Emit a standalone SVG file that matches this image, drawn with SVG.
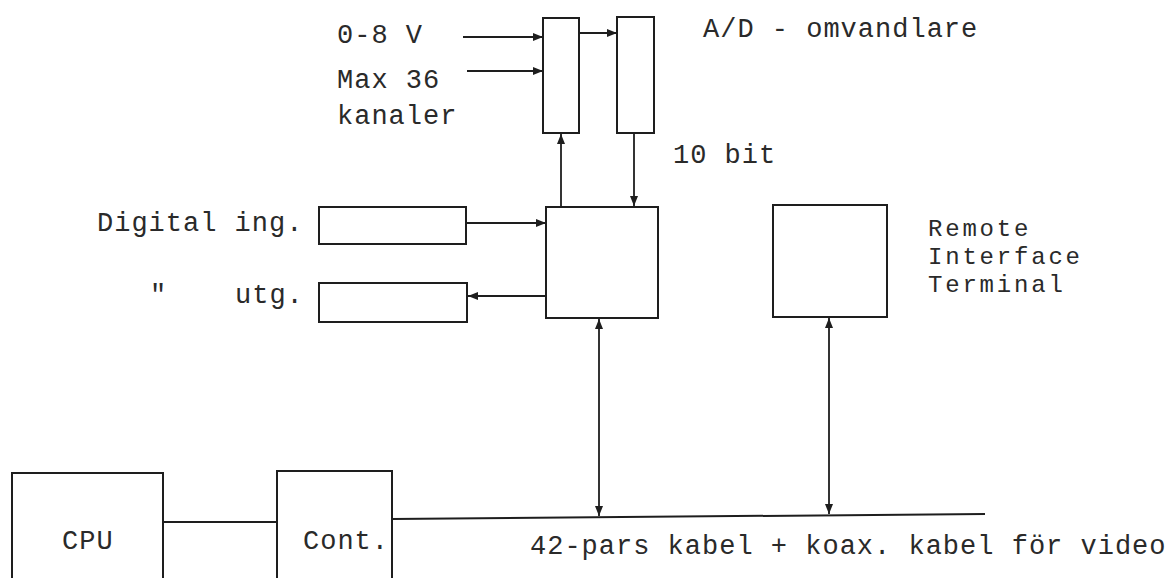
<svg xmlns="http://www.w3.org/2000/svg" width="1175" height="578" viewBox="0 0 1175 578">
<style>
.b{fill:none;stroke:#1e1e1e;stroke-width:2}
.c{fill:none;stroke:#1e1e1e;stroke-width:1.8}
.a{marker-end:url(#ah)}
.d{marker-start:url(#ah);marker-end:url(#ah)}
text{font-family:"Liberation Mono","DejaVu Sans Mono",monospace;font-size:27px;letter-spacing:1px;fill:#2a2a2a}
.s{font-size:24px;letter-spacing:2.8px}
</style>
<defs>
<marker id="ah" viewBox="0 0 10 8" refX="10" refY="4" markerWidth="10" markerHeight="8" markerUnits="userSpaceOnUse" orient="auto-start-reverse">
<path d="M0,0 L10,4 L0,8 Z" fill="#1e1e1e"/>
</marker>
</defs>
<rect width="1175" height="578" fill="#ffffff"/>
<g id="mux"><rect class="b" x="543" y="18" width="36" height="115"/></g>
<g id="adc"><rect class="b" x="617" y="17" width="37" height="116"/><text x="703" y="37">A/D - omvandlare</text></g>
<g id="inputs"><text x="337" y="43">0-8 V</text><text x="337" y="88">Max 36</text><text x="337" y="124">kanaler</text></g>
<g id="bits"><text x="673" y="163">10 bit</text></g>
<g id="central"><rect class="b" x="546" y="207" width="112" height="111"/></g>
<g id="rit"><rect class="b" x="773" y="205" width="114" height="112"/><text class="s" x="928" y="236">Remote</text><text class="s" x="928" y="264">Interface</text><text class="s" x="928" y="292">Terminal</text></g>
<g id="digin"><rect class="b" x="319" y="207" width="147" height="37"/><text x="97" y="231">Digital ing.</text></g>
<g id="digout"><rect class="b" x="319" y="283" width="148" height="39"/><text x="150" y="303">"</text><text x="235" y="303">utg.</text></g>
<g id="cpu"><path class="b" d="M12,580 V473 H163 V580"/><text x="62" y="549">CPU</text></g>
<g id="cont"><path class="b" d="M277,580 V471 H392 V580"/><text x="303" y="549">Cont.</text></g>
<g id="bus"><text x="530" y="554">42-pars kabel + koax. kabel för video</text></g>
<g id="connectors">
<line class="c a" x1="463" y1="37" x2="543" y2="37"/>
<line class="c a" x1="467" y1="71" x2="543" y2="71"/>
<line class="c a" x1="579" y1="33" x2="617" y2="33"/>
<line class="c a" x1="561" y1="207" x2="561" y2="134"/>
<line class="c a" x1="634" y1="134" x2="634" y2="206"/>
<line class="c a" x1="466" y1="223" x2="546" y2="223"/>
<line class="c a" x1="546" y1="296" x2="468" y2="296"/>
<line class="c" x1="163" y1="522" x2="277" y2="522"/>
<line class="b" x1="392" y1="519" x2="985" y2="514"/>
<line class="c d" x1="599" y1="319" x2="599" y2="516"/>
<line class="c d" x1="829" y1="318" x2="829" y2="514"/>
</g>
</svg>
